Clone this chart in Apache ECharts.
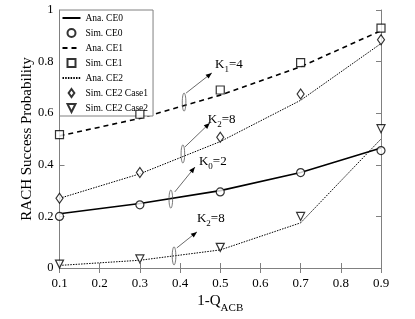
<!DOCTYPE html>
<html><head><meta charset="utf-8">
<script src="https://cdn.jsdelivr.net/npm/echarts@6/dist/echarts.min.js"></script>
<style>html,body{margin:0;padding:0;background:#fff}#c{width:415px;height:319px}</style>
</head><body><div id="c"></div>
<script>
var xValues = [0.1, 0.3, 0.5, 0.7, 0.9];
var anaCE0 = [0.21, 0.25, 0.30, 0.37, 0.465];
var simCE0 = [0.20, 0.245, 0.295, 0.37, 0.455];
var anaCE1 = [0.512, 0.58, 0.67, 0.78, 0.92];
var simCE1 = [0.517, 0.596, 0.69, 0.796, 0.93];
var anaCE2a = [0.27, 0.365, 0.49, 0.65, 0.87];
var simCE2c1 = [0.27, 0.37, 0.507, 0.674, 0.885];
var anaCE2b = [0.01, 0.03, 0.07, 0.175, 0.50];
var simCE2c2 = [0.015, 0.035, 0.08, 0.20, 0.54];
var yTicks = [0, 0.2, 0.4, 0.6, 0.8, 1];
// annotations: ellipse centre, arrow start, arrow end, label anchor (data coords)
var annotations = [
  {ell:[0.41,0.643], a0:[0.415,0.678], a1:[0.479,0.756], lab:[0.487,0.783], k:'1', v:'4'},
  {ell:[0.407,0.442], a0:[0.412,0.469], a1:[0.474,0.562], lab:[0.469,0.570], k:'2', v:'8'},
  {ell:[0.377,0.267], a0:[0.387,0.295], a1:[0.437,0.391], lab:[0.447,0.407], k:'0', v:'2'},
  {ell:[0.385,0.047], a0:[0.392,0.078], a1:[0.442,0.140], lab:[0.442,0.186], k:'2', v:'8'}
];
function pairs(ys){ return xValues.map(function(x,i){return [x, ys[i]];}); }
var font = 'Liberation Serif';
var axisGray = '#808080';
var SQ = 'path://M0,0 L10,0 L10,10 L0,10 Z';
var DIA = 'path://M5,0 L10,7 L5,14 L0,7 Z';
var TRI = 'path://M0,0 L10,0 L5,10 Z';
var chart = echarts.init(document.getElementById('c'));
var markStyle = {color:'#fff', borderColor:'#000', borderWidth:1.2};
var hidden = {color:'rgba(0,0,0,0)', borderColor:'rgba(0,0,0,0)', borderWidth:0};
var option = {
  animation:false,
  backgroundColor:'#fff',
  textStyle:{fontFamily:font},
  grid:{left:59.5, right:34, top:10, bottom:51},
  legend:{
    orient:'vertical', left:59.5, top:10, padding:[3,5,3,2],
    backgroundColor:'#fff', borderColor:axisGray, borderWidth:1, borderRadius:0,
    itemWidth:18, itemHeight:8, itemGap:5, symbolKeepAspect:true,
    textStyle:{fontFamily:font, fontSize:9.5, color:'#000'},
    data:['Ana. CE0','Sim. CE0','Ana. CE1','Sim. CE1','Ana. CE2','Sim. CE2 Case1','Sim. CE2 Case2']
  },
  xAxis:[{
    type:'value', min:0.1, max:0.9, interval:0.1,
    axisLine:{lineStyle:{color:axisGray}},
    axisTick:{inside:true, length:5, lineStyle:{color:axisGray}},
    splitLine:{show:false},
    axisLabel:{fontFamily:font, fontSize:13, color:'#000', margin:9, formatter:function(v){return (Math.round(v*10)/10).toString();}},
    name:'{n|1-Q}{s|ACB}', nameLocation:'middle', nameGap:26, nameMoveOverlap:false,
    nameTextStyle:{rich:{n:{fontFamily:font, fontSize:15, color:'#000', verticalAlign:'top', lineHeight:18}, s:{fontFamily:font, fontSize:11, color:'#000', verticalAlign:'top', lineHeight:18, padding:[9,0,0,0]}}}
  },{
    type:'value', min:0.1, max:0.9, interval:0.1, position:'top',
    axisLine:{show:true, lineStyle:{color:axisGray}},
    axisTick:{inside:true, length:5, lineStyle:{color:axisGray}},
    axisLabel:{show:false}, splitLine:{show:false}
  }],
  yAxis:[{
    type:'value', min:0, max:1, interval:0.2,
    axisLine:{show:true, lineStyle:{color:axisGray}},
    axisTick:{inside:true, length:5, lineStyle:{color:axisGray}},
    splitLine:{show:false},
    axisLabel:{fontFamily:font, fontSize:12.5, color:'#000', margin:6, formatter:function(v){
      var t = yTicks.filter(function(y){return Math.abs(y-v)<1e-6;});
      return t.length ? String(t[0]) : '';}},
    name:'RACH Success Probability', nameLocation:'middle', nameGap:25, nameMoveOverlap:false,
    nameTextStyle:{fontFamily:font, fontSize:15, color:'#000'}
  },{
    type:'value', min:0, max:1, interval:0.2, position:'right',
    axisLine:{show:true, lineStyle:{color:axisGray}},
    axisTick:{inside:true, length:5, lineStyle:{color:axisGray}},
    axisLabel:{show:false}, splitLine:{show:false}
  }],
  series:[
    {name:'Ana. CE0', type:'line', data:pairs(anaCE0), symbol:'none', lineStyle:{color:'#000', width:1.6}, itemStyle:hidden, z:3},
    {name:'Sim. CE0', type:'scatter', data:pairs(simCE0), symbol:'circle', symbolSize:8, itemStyle:markStyle, z:4},
    {name:'Ana. CE1', type:'line', data:pairs(anaCE1), symbol:'none', lineStyle:{color:'#000', width:1.6, type:[5,4]}, itemStyle:hidden, z:3},
    {name:'Sim. CE1', type:'scatter', data:pairs(simCE1), symbol:SQ, symbolSize:8, itemStyle:markStyle, z:4},
    {name:'Ana. CE2', type:'line', data:pairs(anaCE2a), symbol:'none', lineStyle:{color:'#000', width:1, type:[1.5,1.2]}, itemStyle:hidden, z:3},
    {name:'Ana. CE2', type:'line', data:pairs(anaCE2b), symbol:'none', lineStyle:{color:'#000', width:1, type:[1.5,1.2]}, itemStyle:hidden, z:3},
    {name:'Sim. CE2 Case1', type:'scatter', data:pairs(simCE2c1), symbol:DIA, symbolSize:[7,10], itemStyle:markStyle, z:4},
    {name:'Sim. CE2 Case2', type:'scatter', data:pairs(simCE2c2), symbol:TRI, symbolSize:[8,8], itemStyle:markStyle, z:4}
  ]
};
chart.setOption(option);
var g = [];
annotations.forEach(function(a){
  var e = chart.convertToPixel({gridIndex:0}, a.ell);
  var p0 = chart.convertToPixel({gridIndex:0}, a.a0);
  var p1 = chart.convertToPixel({gridIndex:0}, a.a1);
  var pl = chart.convertToPixel({gridIndex:0}, a.lab);
  g.push({type:'ellipse', shape:{cx:e[0], cy:e[1], rx:1.8, ry:9}, style:{fill:'none', stroke:'#555', lineWidth:0.8}, z:10});
  g.push({type:'line', shape:{x1:p0[0], y1:p0[1], x2:p1[0], y2:p1[1]}, style:{stroke:'#444', lineWidth:0.8}, z:10});
  var ang = Math.atan2(p1[1]-p0[1], p1[0]-p0[0]);
  var L = 6, W = 2.5;
  var bx = p1[0]-L*Math.cos(ang), by = p1[1]-L*Math.sin(ang);
  var nx = -Math.sin(ang), ny = Math.cos(ang);
  g.push({type:'polygon', shape:{points:[[p1[0],p1[1]],[bx+W*nx,by+W*ny],[bx-W*nx,by-W*ny]]}, style:{fill:'#000'}, z:10});
  g.push({type:'text', x:pl[0], y:pl[1], z:10, style:{
    text:'{b|K}{s|'+a.k+'}{b|='+a.v+'}', verticalAlign:'middle', align:'left',
    rich:{b:{fontFamily:font, fontSize:13, fill:'#000', verticalAlign:'top', lineHeight:16},
          s:{fontFamily:font, fontSize:9, fill:'#000', verticalAlign:'top', lineHeight:16, padding:[7,0,0,0]}}
  }});
});
chart.setOption({graphic:g});
</script></body></html>
